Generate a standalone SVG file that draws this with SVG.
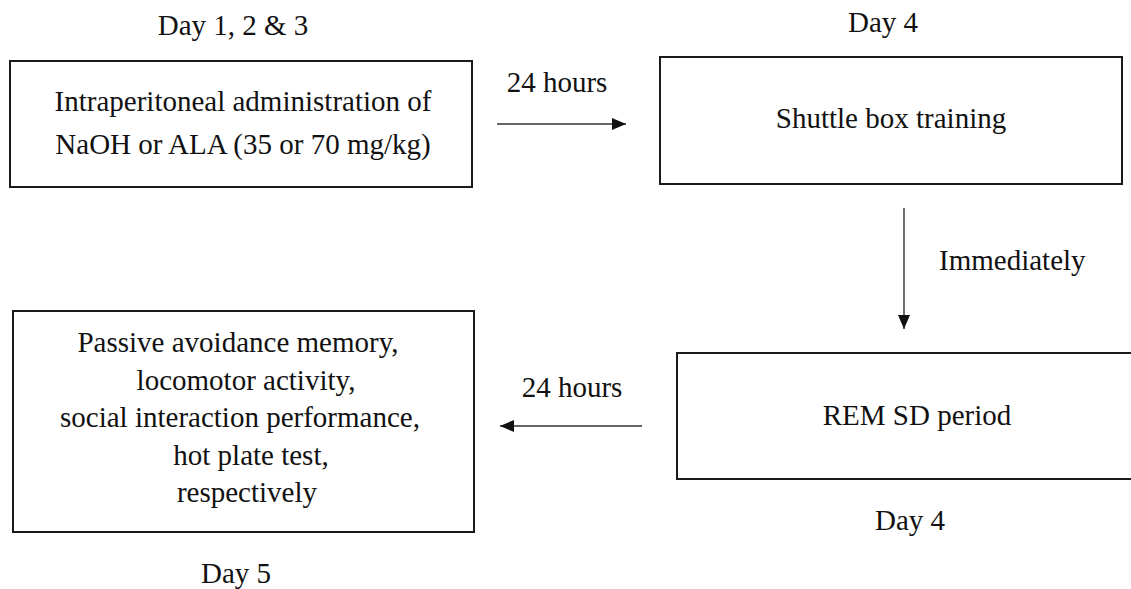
<svg xmlns="http://www.w3.org/2000/svg" width="1131" height="589" viewBox="0 0 1131 589">
<style>
  text { font-family: "Liberation Serif", "Times New Roman", serif; font-size: 29px; fill: #111; }
  .c { text-anchor: middle; }
  .box { fill: #fff; stroke: #1a1a1a; stroke-width: 2; }
  .conn { stroke: #333; stroke-width: 1.4; fill: none; marker-end: url(#ah); }
</style>
<defs>
  <marker id="ah" viewBox="0 0 14 12" refX="14" refY="6" markerWidth="14" markerHeight="12" markerUnits="userSpaceOnUse" orient="auto">
    <path d="M0,0 L14,6 L0,12 Z" fill="#111"/>
  </marker>
</defs>
<rect width="1131" height="589" fill="#fff"/>

<g id="node-admin">
  <text class="c" x="233" y="35">Day 1, 2 &amp; 3</text>
  <rect class="box" x="10" y="61" width="462" height="126"/>
  <text class="c" x="243" y="111">Intraperitoneal administration of</text>
  <text class="c" x="243" y="154">NaOH or ALA (35 or 70 mg/kg)</text>
</g>

<g id="node-shuttle">
  <text class="c" x="883" y="32">Day 4</text>
  <rect class="box" x="660" y="57" width="462" height="127"/>
  <text class="c" x="891" y="128">Shuttle box training</text>
</g>

<g id="node-rem">
  <rect class="box" x="677" y="353" width="470" height="126"/>
  <text class="c" x="917" y="425">REM SD period</text>
  <text class="c" x="910" y="530">Day 4</text>
</g>

<g id="node-tests">
  <rect class="box" x="13" y="311" width="461" height="221"/>
  <text class="c" x="238" y="352">Passive avoidance memory,</text>
  <text class="c" x="246" y="390">locomotor activity,</text>
  <text class="c" x="240" y="427">social interaction performance,</text>
  <text class="c" x="251" y="465">hot plate test,</text>
  <text class="c" x="247" y="502">respectively</text>
  <text class="c" x="236" y="583">Day 5</text>
</g>

<g id="connectors">
  <line class="conn" x1="497" y1="124" x2="626" y2="124"/>
  <text class="c" x="557" y="92">24 hours</text>
  <line class="conn" x1="904" y1="208" x2="904" y2="329"/>
  <text x="939" y="270">Immediately</text>
  <line class="conn" x1="642" y1="426" x2="500" y2="426"/>
  <text class="c" x="572" y="397">24 hours</text>
</g>
</svg>
